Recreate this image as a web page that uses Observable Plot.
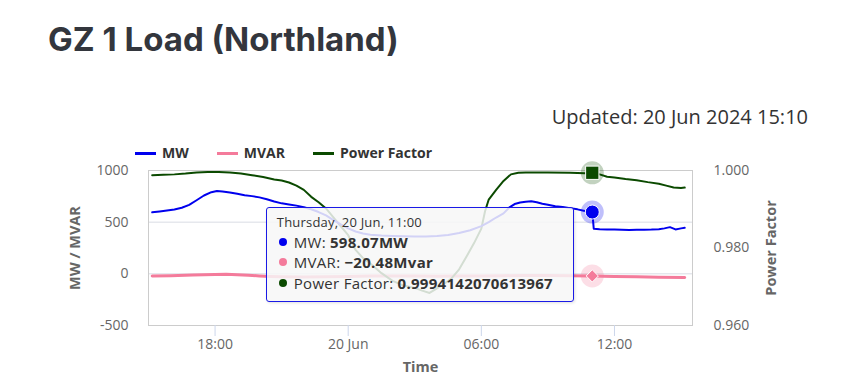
<!DOCTYPE html>
<html>
<head>
<meta charset="utf-8">
<script src="https://cdn.jsdelivr.net/npm/d3@7"></script>
<script src="https://cdn.jsdelivr.net/npm/@observablehq/plot@0.6"></script>
<style>
  html, body { margin: 0; padding: 0; background: #fff; }
  body { width: 845px; height: 380px; overflow: hidden; font-family: "Open Sans", sans-serif; }
  #wrap { position: relative; width: 845px; height: 380px; }
  #header { position: relative; height: 140px; }
  #title { position: absolute; left: 48px; top: 19px; height: 40px; line-height: 40px; font-family: Inter, sans-serif; font-weight: 700; font-size: 33px; color: #33363d; letter-spacing: 0px; white-space: nowrap; }
  #updated { position: absolute; right: 37px; top: 104px; height: 26px; line-height: 26px; font-size: 20px; color: #333; white-space: nowrap; }
  #legend { position: absolute; left: 135px; top: 143px; height: 20px; line-height: 20px; display: flex; font-weight: 700; font-size: 14px; color: #333; white-space: nowrap; z-index: 2; }
  .li { display: flex; align-items: center; margin-right: 28px; }
  .sym { width: 21px; height: 3px; margin-right: 6px; }
  #tooltip { position: absolute; box-sizing: border-box; background: rgba(247,247,247,0.85); border: 1px solid #1a1ae6; border-radius: 3px; padding: 5px 10px 0 10px; color: #333; box-shadow: 1px 1px 3px rgba(0,0,0,0.12); white-space: nowrap; }
  #tooltip .hd { font-size: 13px; line-height: 19px; letter-spacing: 0.2px; }
  #tooltip .row { font-size: 15px; line-height: 20.5px; letter-spacing: 0.3px; display: flex; align-items: center; }
  #tooltip .b { display: inline-block; width: 8px; height: 8px; border-radius: 50%; margin: 0 7px 0 2px; }
  #tooltip strong { font-weight: 700; margin-left: 4px; }
</style>
</head>
<body>
<div id="wrap">
  <div id="header">
    <div id="title">GZ 1 Load (Northland)</div>
    <div id="updated">Updated: 20 Jun 2024 15:10</div>
    <div id="legend"></div>
  </div>
  <div id="chart"></div>
</div>
<script>
// ---------------- data ----------------
const seriesNames = ["MW", "MVAR", "Power Factor"];
const seriesColors = ["#0000ee", "#f47b9b", "#0b4a00"];

const mwTimes = ["2024-06-19 15:10","2024-06-19 15:30","2024-06-19 15:50","2024-06-19 16:10","2024-06-19 16:30","2024-06-19 16:50","2024-06-19 17:10","2024-06-19 17:30","2024-06-19 17:50","2024-06-19 18:05","2024-06-19 18:20","2024-06-19 18:40","2024-06-19 19:00","2024-06-19 19:20","2024-06-19 19:40","2024-06-19 20:00","2024-06-19 20:20","2024-06-19 20:40","2024-06-19 21:00","2024-06-19 21:20","2024-06-19 21:40","2024-06-19 22:00","2024-06-19 22:20","2024-06-19 22:40","2024-06-19 23:00","2024-06-19 23:20","2024-06-19 23:40","2024-06-20 00:00","2024-06-20 00:20","2024-06-20 00:40","2024-06-20 01:00","2024-06-20 01:30","2024-06-20 02:00","2024-06-20 02:30","2024-06-20 03:00","2024-06-20 03:30","2024-06-20 04:00","2024-06-20 04:30","2024-06-20 05:00","2024-06-20 05:30","2024-06-20 06:00","2024-06-20 06:20","2024-06-20 06:40","2024-06-20 07:00","2024-06-20 07:15","2024-06-20 07:30","2024-06-20 07:45","2024-06-20 08:00","2024-06-20 08:15","2024-06-20 08:30","2024-06-20 08:45","2024-06-20 09:00","2024-06-20 09:20","2024-06-20 09:40","2024-06-20 10:00","2024-06-20 10:20","2024-06-20 10:40","2024-06-20 10:50","2024-06-20 11:00","2024-06-20 11:04","2024-06-20 11:20","2024-06-20 11:40","2024-06-20 12:00","2024-06-20 12:20","2024-06-20 12:40","2024-06-20 13:00","2024-06-20 13:20","2024-06-20 13:40","2024-06-20 14:00","2024-06-20 14:15","2024-06-20 14:30","2024-06-20 14:45","2024-06-20 15:00","2024-06-20 15:10"];
const mwValues = [595,603,612,622,640,668,712,758,790,802,797,788,774,760,752,740,722,700,682,672,660,645,625,598,565,520,478,440,410,390,378,370,366,363,361,362,366,376,395,422,462,500,545,585,640,675,690,698,702,692,678,668,655,648,636,624,608,598,598.07,436,432,430,428,427,425,426,427,428,432,440,452,430,440,445];

const mvarTimes = ["2024-06-19 15:10","2024-06-19 16:00","2024-06-19 17:00","2024-06-19 18:00","2024-06-19 18:30","2024-06-19 19:00","2024-06-19 19:30","2024-06-19 20:00","2024-06-19 20:30","2024-06-19 21:00","2024-06-19 22:00","2024-06-19 23:00","2024-06-20 00:00","2024-06-20 01:00","2024-06-20 02:00","2024-06-20 03:00","2024-06-20 04:00","2024-06-20 05:00","2024-06-20 06:00","2024-06-20 07:00","2024-06-20 08:00","2024-06-20 09:00","2024-06-20 10:00","2024-06-20 11:00","2024-06-20 12:00","2024-06-20 13:00","2024-06-20 14:00","2024-06-20 15:10"];
const mvarValues = [-20,-18,-12,-6,-5,-10,-14,-20,-25,-28,-30,-28,-25,-22,-20,-22,-24,-22,-20,-18,-15,-16,-18,-20.48,-26,-29,-33,-36];

const pfTimes = ["2024-06-19 15:10","2024-06-19 15:40","2024-06-19 16:10","2024-06-19 16:40","2024-06-19 17:10","2024-06-19 17:40","2024-06-19 18:10","2024-06-19 18:40","2024-06-19 19:10","2024-06-19 19:40","2024-06-19 20:10","2024-06-19 20:40","2024-06-19 21:00","2024-06-19 21:20","2024-06-19 21:40","2024-06-19 22:00","2024-06-19 22:20","2024-06-19 22:40","2024-06-19 23:00","2024-06-19 23:20","2024-06-19 23:40","2024-06-20 00:00","2024-06-20 00:20","2024-06-20 00:40","2024-06-20 01:00","2024-06-20 01:30","2024-06-20 02:00","2024-06-20 02:30","2024-06-20 03:00","2024-06-20 03:20","2024-06-20 03:40","2024-06-20 04:00","2024-06-20 04:20","2024-06-20 04:40","2024-06-20 05:00","2024-06-20 05:20","2024-06-20 05:40","2024-06-20 06:00","2024-06-20 06:10","2024-06-20 06:20","2024-06-20 06:40","2024-06-20 07:00","2024-06-20 07:20","2024-06-20 07:40","2024-06-20 08:00","2024-06-20 09:00","2024-06-20 10:00","2024-06-20 10:40","2024-06-20 11:00","2024-06-20 11:20","2024-06-20 11:40","2024-06-20 12:00","2024-06-20 12:30","2024-06-20 13:00","2024-06-20 13:30","2024-06-20 14:00","2024-06-20 14:20","2024-06-20 14:40","2024-06-20 15:00","2024-06-20 15:10"];
const pfValues = [0.9988,0.9989,0.9990,0.9992,0.9995,0.9996,0.9996,0.9995,0.9992,0.9988,0.9983,0.9977,0.9974,0.9969,0.9961,0.9950,0.9932,0.9918,0.9902,0.9879,0.9856,0.9833,0.9795,0.9774,0.9760,0.9735,0.9715,0.9703,0.9697,0.9690,0.9684,0.9696,0.9708,0.9722,0.9745,0.9778,0.9812,0.9850,0.9895,0.9925,0.9950,0.9973,0.9990,0.9994,0.9995,0.9995,0.9994,0.9993,0.9994142070613967,0.9990,0.9984,0.9982,0.9978,0.9975,0.9970,0.9966,0.9961,0.9956,0.9955,0.9956];

const hoverTime = "2024-06-20 11:00";
const hoverMW = 598.07, hoverMVAR = -20.48, hoverPF = 0.9994142070613967;

const xDomain = ["2024-06-19 15:00", "2024-06-20 15:31"];
const xTickTimes = ["2024-06-19 18:00","2024-06-20 00:00","2024-06-20 06:00","2024-06-20 12:00"];
const xTickLabels = ["18:00","20 Jun","06:00","12:00"];
const leftTicks = [-500, 0, 500, 1000];
const leftDomain = [-500, 1000];
const rightTicks = [0.96, 0.98, 1.0];
const rightTickLabels = ["0.960","0.980","1.000"];
const rightDomain = [0.96, 1.0];

// ---------------- build ----------------
const parse = d3.timeParse("%Y-%m-%d %H:%M");
const pfToY = v => leftDomain[0] + (v - rightDomain[0]) / (rightDomain[1] - rightDomain[0]) * (leftDomain[1] - leftDomain[0]);

const mwData = mwTimes.map((t, i) => ({t: parse(t), v: mwValues[i]}));
const mvarData = mvarTimes.map((t, i) => ({t: parse(t), v: mvarValues[i]}));
const pfData = pfTimes.map((t, i) => ({t: parse(t), v: pfToY(pfValues[i])}));
const hT = parse(hoverTime);
const hoverPts = [
  {t: hT, v: hoverMW, c: seriesColors[0]},
  {t: hT, v: hoverMVAR, c: seriesColors[1]},
  {t: hT, v: pfToY(hoverPF), c: seriesColors[2]}
];

// legend
const legend = document.getElementById("legend");
seriesNames.forEach((n, i) => {
  const li = document.createElement("div"); li.className = "li";
  const s = document.createElement("div"); s.className = "sym"; s.style.background = seriesColors[i];
  const tx = document.createElement("span"); tx.textContent = n;
  li.appendChild(s); li.appendChild(tx); legend.appendChild(li);
});

const plot = Plot.plot({
  width: 845, height: 240,
  marginLeft: 148, marginRight: 153, marginTop: 30, marginBottom: 55,
  style: {fontFamily: "Open Sans", fontSize: "14px", color: "#666", background: "transparent", overflow: "visible"},
  x: {type: "time", domain: xDomain.map(parse)},
  y: {domain: leftDomain},
  marks: [
    Plot.gridY(leftTicks, {stroke: "#d9dce4", strokeOpacity: 1}),
    Plot.frame({stroke: "#cccccc"}),
    Plot.axisY(leftTicks, {anchor: "left", tickSize: 0, tickPadding: 20, tickFormat: d => String(d), label: null, fill: "#666"}),
    Plot.axisY(rightTicks.map(pfToY), {anchor: "right", tickSize: 0, tickPadding: 21, tickFormat: (d, i) => rightTickLabels[i], label: null, fill: "#666"}),
    Plot.axisX(xTickTimes.map(parse), {anchor: "bottom", tickSize: 11, tickPadding: 3, tickFormat: (d, i) => xTickLabels[i], label: null, stroke: "#ccd6eb", fill: "#666"}),
    Plot.text(["MW / MVAR"], {frameAnchor: "left", textAnchor: "middle", dx: -73, rotate: -90, fontWeight: "bold", fontSize: 14.5, fill: "#666"}),
    Plot.text(["Power Factor"], {frameAnchor: "right", textAnchor: "middle", dx: 79, rotate: -90, fontWeight: "bold", fontSize: 14.5, fill: "#666"}),
    Plot.text(["Time"], {frameAnchor: "bottom", dy: 46, fontWeight: "bold", fontSize: 14.5, fill: "#666"}),
    Plot.line(mvarData, {x: "t", y: "v", stroke: seriesColors[1], strokeWidth: 3}),
    Plot.line(pfData, {x: "t", y: "v", stroke: seriesColors[2], strokeWidth: 2}),
    Plot.line(mwData, {x: "t", y: "v", stroke: seriesColors[0], strokeWidth: 2}),
    Plot.dot(hoverPts, {x: "t", y: "v", r: 11.5, fill: d => d.c, fillOpacity: 0.25}),
    Plot.dot([hoverPts[0]], {x: "t", y: "v", r: 7, symbol: "circle", fill: seriesColors[0], stroke: "#fff", strokeWidth: 1}),
    Plot.dot([hoverPts[1]], {x: "t", y: "v", r: 5.5, symbol: "diamond2", fill: seriesColors[1], stroke: "#fff", strokeWidth: 1}),
    Plot.dot([hoverPts[2]], {x: "t", y: "v", r: 7.5, symbol: "square", fill: seriesColors[2], stroke: "#fff", strokeWidth: 1})
  ]
});
plot.style.display = "block";
document.getElementById("chart").appendChild(plot);

// tooltip anchored to the hovered point via the scales
const xs = plot.scale("x"), ys = plot.scale("y");
const px = xs.apply(hT), py = ys.apply(hoverMW);
const tipW = 308, tipH = 95;
const tip = document.createElement("div");
tip.id = "tooltip";
tip.style.width = tipW + "px"; tip.style.height = tipH + "px";
tip.style.left = (px - 18 - tipW) + "px";
tip.style.top = (140 + py - 5) + "px";
const row = (c, label, value) => '<div class="row"><span class="b" style="background:' + c + '"></span>' + label + '<strong>' + value + '</strong></div>';
tip.innerHTML =
  '<div class="hd">Thursday, 20 Jun, 11:00</div>' +
  row(seriesColors[0], "MW:", "598.07MW") +
  row(seriesColors[1], "MVAR:", "\u221220.48Mvar") +
  row(seriesColors[2], "Power Factor:", "0.9994142070613967");
document.getElementById("wrap").appendChild(tip);
</script>
</body>
</html>
